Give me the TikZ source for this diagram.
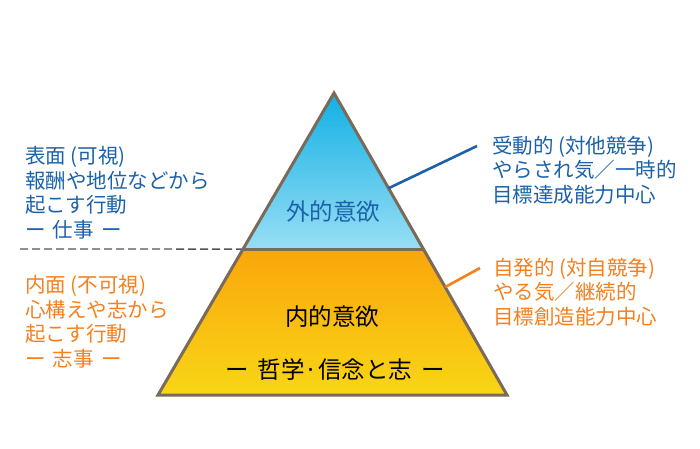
\documentclass[tikz,border=0pt]{standalone}
\usepackage{fontspec}
\setmainfont{Noto Sans CJK JP}
\usepackage{xcolor}
\usetikzlibrary{calc}
\definecolor{pyrline}{RGB}{122,106,90}
\definecolor{skytop}{RGB}{18,176,228}
\definecolor{skybot}{RGB}{152,222,245}
\definecolor{ambtop}{RGB}{250,166,12}
\definecolor{ambbot}{RGB}{248,214,22}
\definecolor{txtblue}{RGB}{28,98,168}
\definecolor{txtorange}{RGB}{246,128,28}
\definecolor{guide}{RGB}{85,85,85}

\begin{document}
\begin{tikzpicture}[x=1pt,y=-1pt]

% canvas
\useasboundingbox[fill=white] (0,0) rectangle (700,448);

\tikzset{
  sidetext/.style={
    anchor=west,
    align=left,
    inner sep=0pt,
    font=\fontsize{20.5}{24.5}\selectfont
  },
  layertext/.style={
    inner sep=0pt,
    font=\fontsize{23.5}{26}\selectfont
  },
  leader/.style={
    line width=2.6pt
  }
}

% pyramid corners
\coordinate (apex) at (334,93);
\coordinate (bl) at (158,395);
\coordinate (br) at (507,395);
\coordinate (ml) at ($(apex)!0.517!(bl)$);
\coordinate (mr) at ($(apex)!0.517!(br)$);

% divider guide
\coordinate (gstart) at (20,249);
\draw[guide,line width=1.3pt,dash pattern=on 8pt off 4pt] (gstart) -- (ml);

% layers
\shade[top color=skytop,bottom color=skybot] (apex) -- (mr) -- (ml) -- cycle;
\shade[top color=ambtop,bottom color=ambbot] (ml) -- (mr) -- (br) -- (bl) -- cycle;
\draw[pyrline,line width=3pt,line join=miter] (apex) -- (br) -- (bl) -- cycle;
\draw[pyrline,line width=3pt] (ml) -- (mr);

% layer labels
\node[layertext,text=txtblue] (outer) at (333,212) {外的意欲};
\node[layertext,text=black] (inner) at (332,317) {内的意欲};
\node[layertext,text=black] (base) at (335,370)
  {ー\hspace{0.4em}哲学·信念と志\hspace{0.4em}ー};

% left side
\node[sidetext,text=txtblue] (surface) at (25,192.5)
  {表面 (可視)\\報酬や地位などから\\起こす行動\\ー\hspace{0.35em}仕事\hspace{0.35em}ー};
\node[sidetext,text=txtorange] (depth) at (25,321.5)
  {内面 (不可視)\\心構えや志から\\起こす行動\\ー\hspace{0.35em}志事\hspace{0.35em}ー};

% right side
\node[sidetext,text=txtblue] (passive) at (492,170)
  {受動的 (対他競争)\\やらされ気／一時的\\目標達成能力中心};
\node[sidetext,text=txtorange] (active) at (493,292)
  {自発的 (対自競争)\\やる気／継続的\\目標創造能力中心};

% leaders
\coordinate (bfoot) at ($(apex)!0.61!(mr)$);
\coordinate (btip) at (477,146);
\draw[leader,txtblue] (bfoot) -- (btip);
\coordinate (ofoot) at ($(mr)!0.26!(br)$);
\coordinate (otip) at (480,268);
\draw[leader,txtorange] (ofoot) -- (otip);

\end{tikzpicture}
\end{document}
